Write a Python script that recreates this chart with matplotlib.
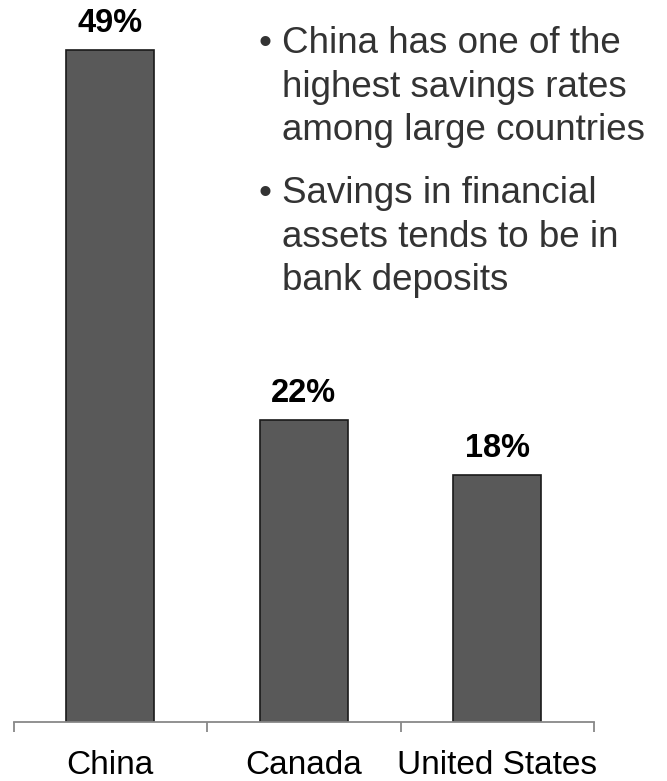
import matplotlib
matplotlib.use("Agg")
import matplotlib.pyplot as plt

categories = ["China", "Canada", "United States"]
values = [49, 22, 18]
value_labels = ["49%", "22%", "18%"]
bullets = [
    ["China has one of the", "highest savings rates", "among large countries"],
    ["Savings in financial", "assets tends to be in", "bank deposits"],
]

W, H = 667, 781
fig = plt.figure(figsize=(W / 100, H / 100), dpi=100)

x0, x1 = 13.5, 594.0
base = 722.0
px_per_unit = 13.71
ax = fig.add_axes([x0 / W, (H - base) / H, (x1 - x0) / W, base / H])
ax.set_xlim(-0.5, len(categories) - 0.5)
ax.set_ylim(0, base / px_per_unit)

xs = list(range(len(categories)))
bars = ax.bar(xs, values, width=0.455, color="#595959", edgecolor="#1a1a1a", linewidth=1.2)

for b, lab in zip(bars, value_labels):
    ax.annotate(lab, (b.get_x() + b.get_width() / 2, b.get_height()),
                xytext=(0, 13), textcoords="offset points", ha="center", va="baseline",
                fontsize=23.5, fontweight="bold", family="Liberation Sans", color="black")

for s in ["top", "right", "left"]:
    ax.spines[s].set_visible(False)
ax.spines["bottom"].set_color("#888888")
ax.spines["bottom"].set_linewidth(1.3)
ax.set_yticks([])
ax.set_xticks(xs)
ax.set_xticklabels(categories, family="Liberation Sans", fontsize=24, color="black")
ax.tick_params(axis="x", which="major", length=0, pad=20.5)
ax.set_xticks([i - 0.5 for i in range(len(categories) + 1)], minor=True)
ax.tick_params(axis="x", which="minor", length=7.3, width=1.3, color="#888888", direction="out")

# bullet text
line_baselines = [[53, 97, 140], [203, 247, 290]]
for lines, ys in zip(bullets, line_baselines):
    fig.text(258 / W, 1 - ys[0] / H, "\u2022", fontsize=26.5, family="Liberation Sans",
             color="#333333", va="baseline", ha="left")
    for t, y in zip(lines, ys):
        fig.text(282 / W, 1 - y / H, t, fontsize=26.5, family="Liberation Sans",
                 color="#333333", va="baseline", ha="left")

fig.savefig("out.png", dpi=100)
